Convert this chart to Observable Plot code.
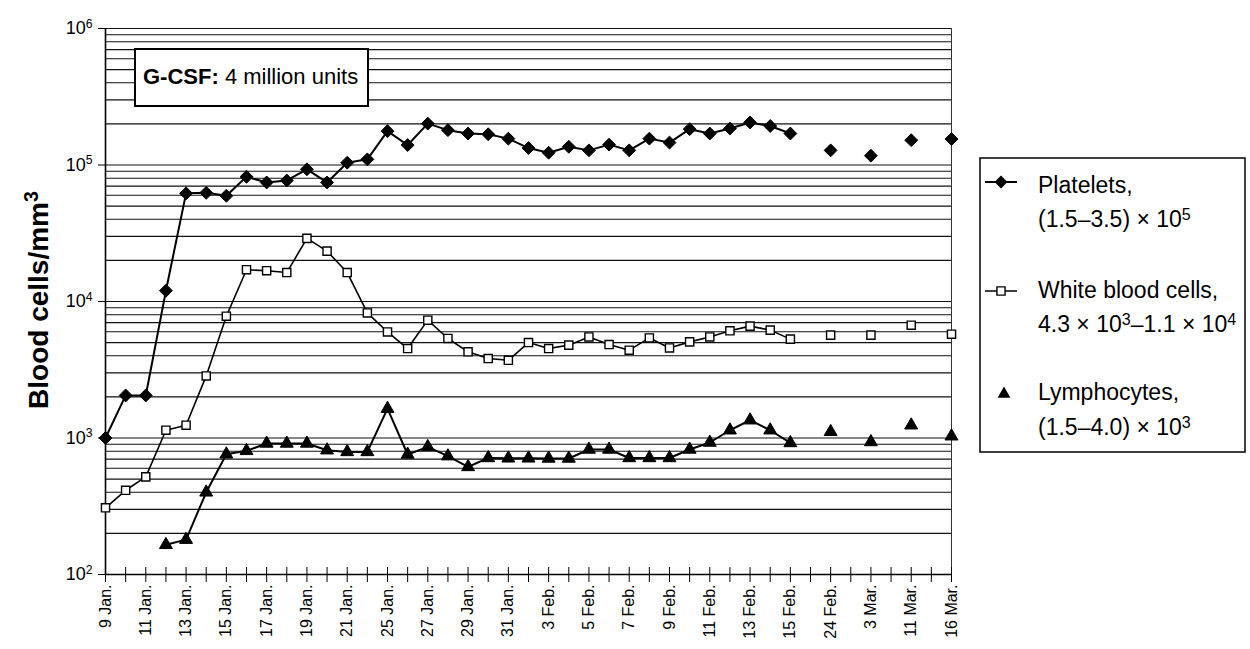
<!DOCTYPE html>
<html>
<head>
<meta charset="utf-8">
<script src="https://cdn.jsdelivr.net/npm/d3@7"></script>
<script src="https://cdn.jsdelivr.net/npm/@observablehq/plot@0.6"></script>
<style>
  body { margin: 0; background: #fff; }
  #chart { width: 1250px; height: 649px; }
</style>
</head>
<body>
<div id="chart"></div>
<script>
// Category axis: 43 sampling slots; only every second slot is labelled.
const tickLabels = [
  "9 Jan.", "", "11 Jan.", "", "13 Jan.", "", "15 Jan.", "", "17 Jan.", "", "19 Jan.", "",
  "21 Jan.", "", "25 Jan.", "", "27 Jan.", "", "29 Jan.", "", "31 Jan.", "", "3 Feb.", "",
  "5 Feb.", "", "7 Feb.", "", "9 Feb.", "", "11 Feb.", "", "13 Feb.", "", "15 Feb.", "",
  "24 Feb.", "", "3 Mar.", "", "11 Mar.", "", "16 Mar."
];

// Platelets per mm3
const platelets = [
  1000, 2050, 2050, 12000, 62000, 62500, 59500, 82000, 74500, 77000, 93000, 74500,
  104000, 110000, 177000, 140000, 201000, 180000, 170000, 168000, 156000, 133000, 123000, 136000,
  128000, 141000, 128000, 156000, 146000, 183000, 170000, 185000, 205000, 193000, 170000, null,
  128000, null, 117000, null, 152000, null, 155000
];

// White blood cells per mm3
const whiteBloodCells = [
  308, 414, 519, 1140, 1240, 2850, 7800, 17100, 16800, 16300, 29000, 23400,
  16300, 8250, 5980, 4520, 7300, 5360, 4280, 3820, 3710, 5000, 4520, 4790,
  5500, 4840, 4400, 5410, 4570, 5060, 5500, 6100, 6600, 6170, 5300, null,
  5670, null, 5670, null, 6700, null, 5760
];

// Lymphocytes per mm3
const lymphocytes = [
  null, null, null, 165, 180, 400, 760, 805, 912, 912, 912, 814,
  791, 791, 1640, 757, 861, 736, 614, 714, 710, 710, 708, 708,
  824, 824, 714, 714, 714, 824, 927, 1140, 1350, 1140, 920, null,
  1110, null, 935, null, 1240, null, 1030
];

const yTicks = [1e2, 1e3, 1e4, 1e5, 1e6];
const gridValues = [];
for (let k = 2; k < 6; k++) for (let m = 1; m < 10; m++) gridValues.push(m * Math.pow(10, k));
gridValues.push(1e6);

const slots = d3.range(tickLabels.length);
const rows = vals => slots.map(i => ({i, v: vals[i]}));
const pts = vals => rows(vals).filter(d => d.v != null);

const svg = Plot.plot({
  width: 1250,
  height: 649,
  marginLeft: 105,
  marginRight: 299,
  marginTop: 28,
  marginBottom: 75,
  style: {fontFamily: "'Liberation Sans', Arial, Helvetica, sans-serif", background: "white", color: "black"},
  x: {type: "linear", domain: [0, tickLabels.length - 1], axis: null},
  y: {type: "log", domain: [1e2, 1e6], axis: null},
  marks: [
    Plot.ruleY(gridValues, {stroke: "#111", strokeWidth: 1.1}),
    Plot.ruleX([0], {stroke: "black", strokeWidth: 1.6}),
    Plot.ruleX([tickLabels.length - 1], {stroke: "#333", strokeWidth: 1}),
    Plot.ruleY([1e2], {stroke: "black", strokeWidth: 1.4}),
    Plot.ruleX(slots, {x: d => d, y1: 1e2, y2: 1e2, insetTop: -7, insetBottom: -8, stroke: "black", strokeWidth: 1}),
    Plot.axisX({
      ticks: slots, tickFormat: i => tickLabels[i], tickSize: 0, tickPadding: 10, label: null,
      tickRotate: -90, textAnchor: "end", fontSize: 16, fill: "black"
    }),
    Plot.axisY({
      ticks: yTicks, tickSize: 7, tickPadding: 6, fontSize: 18, fill: "black", stroke: "black", label: null,
      tickFormat: d => "10^" + Math.round(Math.log10(d))
    }),
    Plot.line(rows(platelets), {x: "i", y: "v", stroke: "black", strokeWidth: 2}),
    Plot.line(rows(whiteBloodCells), {x: "i", y: "v", stroke: "black", strokeWidth: 1.6}),
    Plot.line(rows(lymphocytes), {x: "i", y: "v", stroke: "black", strokeWidth: 2}),
    Plot.dot(pts(platelets), {x: "i", y: "v", symbol: "diamond2", r: 5.8, fill: "black", stroke: "black", strokeWidth: 1}),
    Plot.dot(pts(whiteBloodCells), {x: "i", y: "v", symbol: "square", r: 4.6, fill: "white", stroke: "black", strokeWidth: 1.4}),
    Plot.dot(pts(lymphocytes), {x: "i", y: "v", symbol: "triangle", r: 4.8, fill: "black", stroke: "black", strokeWidth: 1})
  ]
});

document.getElementById("chart").appendChild(svg);
const S = d3.select(svg);

// superscript exponents on y tick labels
S.selectAll('g[aria-label="y-axis tick label"] text').each(function () {
  const [b, e] = this.textContent.split("^");
  this.textContent = "";
  const t = d3.select(this);
  t.append("tspan").text(b);
  t.append("tspan").attr("dy", "-0.55em").attr("font-size", "0.68em").text(e);
});

// y axis title
const yl = S.append("text")
  .attr("transform", "translate(48,300) rotate(-90)")
  .attr("text-anchor", "middle")
  .attr("font-weight", "bold")
  .attr("font-size", 28)
  .attr("fill", "black");
yl.append("tspan").text("Blood cells/mm");
yl.append("tspan").attr("dy", "-0.5em").attr("font-size", "0.7em").text("3");

// annotation box
S.append("rect").attr("x", 135).attr("y", 49).attr("width", 233).attr("height", 57)
  .attr("fill", "white").attr("stroke", "black").attr("stroke-width", 2);
const ann = S.append("text").attr("x", 143).attr("y", 84).attr("font-size", 22)
  .attr("text-anchor", "start").attr("fill", "black");
ann.append("tspan").attr("font-weight", "bold").text("G-CSF:");
ann.append("tspan").text(" 4 million units");

// legend
const L = S.append("g").attr("text-anchor", "start");
L.append("rect").attr("x", 980).attr("y", 158).attr("width", 265).attr("height", 294)
  .attr("fill", "white").attr("stroke", "black").attr("stroke-width", 1.5);

function legendText(y) {
  return L.append("text").attr("x", 1038).attr("y", y).attr("font-size", 23)
    .attr("text-anchor", "start").attr("fill", "black");
}
function supSpan(t, s) {
  t.append("tspan").attr("dy", "-0.45em").attr("font-size", "0.7em").text(s);
}
// Platelets
L.append("line").attr("x1", 985).attr("x2", 1017).attr("y1", 182).attr("y2", 182).attr("stroke", "black").attr("stroke-width", 2);
L.append("path").attr("d", d3.symbol(d3.symbolDiamond2, 5.8 * 5.8 * Math.PI)()).attr("transform", "translate(1001,182)").attr("fill", "black");
legendText(193).text("Platelets,");
{ const t = legendText(227); t.append("tspan").text("(1.5–3.5) × 10"); supSpan(t, "5"); }
// White blood cells
L.append("line").attr("x1", 985).attr("x2", 1017).attr("y1", 291).attr("y2", 291).attr("stroke", "black").attr("stroke-width", 1.5);
L.append("path").attr("d", d3.symbol(d3.symbolSquare, 4.6 * 4.6 * Math.PI)()).attr("transform", "translate(1001,291)").attr("fill", "white").attr("stroke", "black").attr("stroke-width", 1.4);
legendText(298).text("White blood cells,");
{ const t = legendText(332);
  t.append("tspan").text("4.3 × 10");
  supSpan(t, "3");
  t.append("tspan").attr("dy", "0.315em").text("–1.1 × 10");
  supSpan(t, "4"); }
// Lymphocytes
L.append("path").attr("d", d3.symbol(d3.symbolTriangle, 4.8 * 4.8 * Math.PI)()).attr("transform", "translate(1004,394)").attr("fill", "black");
legendText(400).text("Lymphocytes,");
{ const t = legendText(435); t.append("tspan").text("(1.5–4.0) × 10"); supSpan(t, "3"); }
</script>
</body>
</html>
